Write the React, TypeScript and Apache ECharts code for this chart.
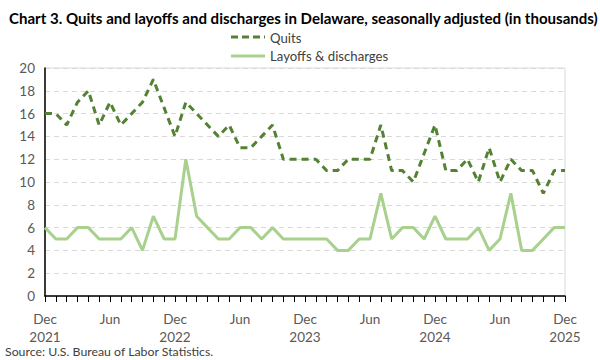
import React, { useEffect, useRef } from "react";
import * as echarts from "echarts";

const monthNames = ["Jan", "Feb", "Mar", "Apr", "May", "Jun", "Jul", "Aug", "Sep", "Oct", "Nov", "Dec"];
const startYear = 2021;
const startMonthIndex = 11; // Dec
const monthCount = 49;

const quits = [
  16, 16, 15, 17, 18, 15, 17, 15, 16, 17, 19, 16.5,
  14, 17, 16, 15, 14, 15, 13, 13, 14, 15, 12, 12,
  12, 12, 11, 11, 12, 12, 12, 15, 11, 11, 10, 12.5,
  15, 11, 11, 12, 10, 13, 10, 12, 11, 11, 9, 11,
  11,
];

const layoffs = [
  6, 5, 5, 6, 6, 5, 5, 5, 6, 4, 7, 5,
  5, 12, 7, 6, 5, 5, 6, 6, 5, 6, 5, 5,
  5, 5, 5, 4, 4, 5, 5, 9, 5, 6, 6, 5,
  7, 5, 5, 5, 6, 4, 5, 9, 4, 4, 5, 6,
  6,
];

const yTicks = { min: 0, max: 20, interval: 2 };

function buildCategories(): string[] {
  const out: string[] = [];
  for (let i = 0; i < monthCount; i++) {
    const m = (startMonthIndex + i) % 12;
    const y = startYear + Math.floor((startMonthIndex + i) / 12);
    out.push(monthNames[m] + " " + y);
  }
  return out;
}

export default function App() {
  const ref = useRef<HTMLDivElement>(null);
  useEffect(() => {
    if (!ref.current) return;
    const chart = echarts.init(ref.current, undefined, { renderer: "svg" });
    const categories = buildCategories();
    const font = "Lato, 'Open Sans', sans-serif";
    chart.setOption({
      animation: false,
      textStyle: { fontFamily: font },
      title: {
        text: "Chart 3. Quits and layoffs and discharges in Delaware, seasonally adjusted (in thousands)",
        left: 4,
        top: 5,
        textStyle: { fontSize: 15.05, fontWeight: "bold", color: "#000", fontFamily: font },
      },
      legend: {
        orient: "vertical",
        left: 237,
        top: 26,
        itemWidth: 34,
        itemHeight: 12,
        itemGap: 5,
        textStyle: { fontSize: 13.2, color: "#404040", fontFamily: font },
        data: [
          { name: "Quits", icon: "path://M0,0H1V1H0Z", itemStyle: { opacity: 0 } },
          { name: "Layoffs & discharges", icon: "path://M0,0H1V1H0Z", itemStyle: { opacity: 0 } },
        ],
      },
      grid: {
        left: 45,
        right: 35,
        top: 68,
        bottom: 64,
        show: true,
        borderColor: "#d9d9d9",
        borderWidth: 1,
      },
      xAxis: {
        type: "category",
        data: categories,
        boundaryGap: false,
        axisLine: { lineStyle: { color: "#000", width: 1.5 } },
        axisTick: { show: true, interval: 0, length: 6, lineStyle: { color: "#000" } },
        axisLabel: {
          interval: 5,
          color: "#595959",
          fontSize: 13.5,
          lineHeight: 18,
          margin: 14,
          fontFamily: font,
          formatter: (v: string) => {
            const [m, y] = v.split(" ");
            return m === "Dec" ? m + "\n" + y : m;
          },
        },
        splitLine: { show: false },
      },
      yAxis: {
        type: "value",
        min: yTicks.min,
        max: yTicks.max,
        interval: yTicks.interval,
        axisLine: { show: true, lineStyle: { color: "#000", width: 1.5 } },
        axisTick: { show: false },
        axisLabel: { color: "#595959", fontSize: 13.5, margin: 10, fontFamily: font },
        splitLine: { lineStyle: { color: "#d9d9d9", type: [5, 4], width: 1 } },
      },
      series: [
        {
          name: "Quits",
          type: "line",
          data: quits,
          symbol: "none",
          lineStyle: { color: "#548235", width: 3, type: [7, 5] },
          itemStyle: { color: "#548235" },
          z: 3,
        },
        {
          name: "Layoffs & discharges",
          type: "line",
          data: layoffs,
          symbol: "none",
          lineStyle: { color: "#a9d18e", width: 3 },
          itemStyle: { color: "#a9d18e" },
          z: 2,
        },
      ],
      graphic: [
        {
          type: "line",
          shape: { x1: 231, y1: 37, x2: 265, y2: 37 },
          style: { stroke: "#548235", lineWidth: 3, lineDash: [7, 4] },
        },
        {
          type: "line",
          shape: { x1: 231, y1: 56, x2: 265, y2: 56 },
          style: { stroke: "#a9d18e", lineWidth: 3 },
        },
        {
          type: "text",
          left: 5,
          top: 345,
          style: { text: "Source: U.S. Bureau of Labor Statistics.", fontSize: 12.3, fill: "#404040", fontFamily: font },
        },
      ],
    });
    return () => chart.dispose();
  }, []);
  return <div ref={ref} style={{ width: 600, height: 360, position: "absolute", left: 0, top: 0 }} />;
}
